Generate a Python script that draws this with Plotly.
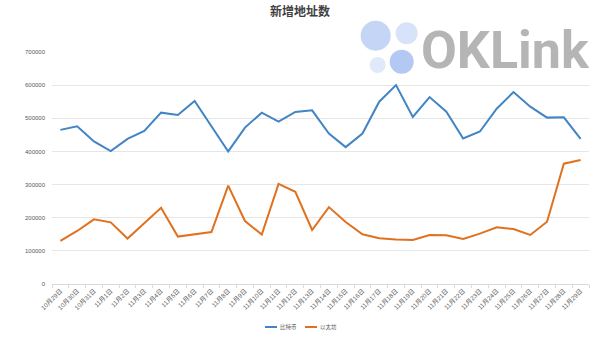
import plotly.graph_objects as go

dates = ["10月29日", "10月30日", "10月31日"] + [f"11月{d}日" for d in range(1, 30)]

btc = [465000, 476000, 430000, 401000, 438000, 462000, 517000, 510000, 552000, 476000,
       400000, 472000, 517000, 490000, 519000, 524000, 454000, 413000, 454000, 550000,
       600000, 504000, 564000, 520000, 439000, 460000, 529000, 579000, 535000, 502000,
       503000, 438000]

eth = [130000, 160000, 195000, 186000, 137000, 184000, 230000, 143000, 149000, 157000,
       297000, 190000, 149000, 302000, 278000, 163000, 232000, 187000, 150000, 138000,
       134000, 133000, 148000, 147000, 136000, 152000, 171000, 166000, 148000, 188000,
       363000, 374000]

series_names = ["比特币", "以太坊"]
series_colors = ["#4284c4", "#e0711f"]
title_text = "新增地址数"
y_ticks = [0, 100000, 200000, 300000, 400000, 500000, 600000, 700000]

W, H = 600, 338
L, R, T, B = 52, 11, 52, 54
pw, ph = W - L - R, H - T - B

def px(x):
    return (x - L) / pw

def py(y):
    return (H - B - y) / ph

FONT = "Liberation Sans, Noto Sans CJK SC, sans-serif"

fig = go.Figure()
for vals, name, col in zip([btc, eth], series_names, series_colors):
    fig.add_trace(go.Scatter(x=dates, y=vals, mode="lines", name=name,
                             line=dict(color=col, width=2)))

# watermark circles
circles = [
    (375.7, 35.7, 15, "#c4d5f6"),
    (406.7, 33.3, 11, "#d7e3f9"),
    (377.7, 65.0, 8, "#dfe9fa"),
    (401.7, 61.7, 12, "#b3c8f3"),
]
shapes = []
for cx, cy, r, c in circles:
    shapes.append(dict(type="circle", xref="paper", yref="paper",
                       x0=px(cx - r), x1=px(cx + r), y0=py(cy + r), y1=py(cy - r),
                       fillcolor=c, line=dict(width=0), layer="above"))

annotations = [
    dict(text="OKLink", xref="paper", yref="paper", x=px(505), y=py(50),
         xanchor="center", yanchor="middle", showarrow=False,
         font=dict(family="Roboto, Liberation Sans, sans-serif", size=52,
                   color="rgba(160,160,160,0.78)", weight="bold")),
]

# custom compact legend
leg_y = 327
leg_x0 = [265, 305]
for x0, name, col in zip(leg_x0, series_names, series_colors):
    shapes.append(dict(type="line", xref="paper", yref="paper",
                       x0=px(x0), x1=px(x0 + 12), y0=py(leg_y), y1=py(leg_y),
                       line=dict(color=col, width=2)))
    annotations.append(dict(text=name, xref="paper", yref="paper", x=px(x0 + 13),
                            y=py(leg_y), xanchor="left", yanchor="middle",
                            showarrow=False,
                            font=dict(size=5.5, color="#595959")))

fig.update_layout(
    width=W, height=H,
    margin=dict(l=L, r=R, t=T, b=B, autoexpand=False),
    paper_bgcolor="white", plot_bgcolor="white",
    font=dict(family=FONT, color="#595959"),
    title=dict(text=title_text, x=0.5, xanchor="center", y=1 - 12 / H, yanchor="middle",
               font=dict(size=12, color="#404040", weight="bold")),
    showlegend=False,
    shapes=shapes,
    annotations=annotations,
)

fig.update_xaxes(type="category", showgrid=False, showline=True, linecolor="#d9d9d9",
                 linewidth=1, ticks="outside", tickson="boundaries", ticklen=3,
                 tickcolor="#d9d9d9", tickangle=-45, tickfont=dict(size=6.3, color="#595959"),
                 range=[-0.5, len(dates) - 0.5])
fig.update_yaxes(range=[0, 700000], tickvals=y_ticks, tickformat="d",
                 showgrid=True, gridcolor="#e6e6e6", gridwidth=1, zeroline=False,
                 showline=False, tickfont=dict(size=6, color="#595959"), ticks="",
                 ticklabelstandoff=6)

fig.write_html("out.html")
